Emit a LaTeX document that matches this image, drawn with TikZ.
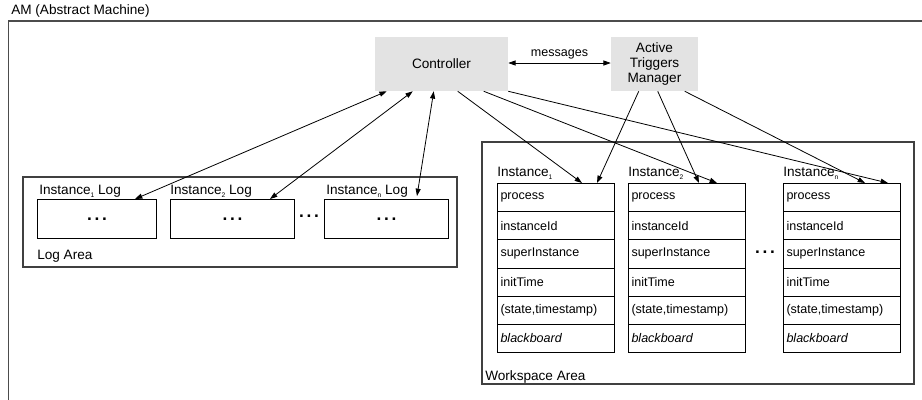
\documentclass[tikz,border=0pt]{standalone}
\usepackage{fontspec}
\setmainfont{Liberation Sans}
\usetikzlibrary{arrows.meta,calc}

% small lowered index for instance names
\newcommand{\idx}[1]{\raisebox{-0.4ex}{\fontsize{5}{5}\selectfont #1}}
% spaced bold ellipsis
\newcommand{\gapdots}{.\hspace{2pt}.\hspace{2pt}.}

\begin{document}
\begin{tikzpicture}[x=0.75pt,y=-0.75pt,
  lbl/.style={font=\fontsize{10.2}{11.3}\selectfont, inner sep=0},
  small/.style={font=\fontsize{9.4}{11}\selectfont, inner sep=0},
  component/.style={fill=black!11, inner sep=0, align=center,
    font=\fontsize{10.2}{11.3}\selectfont},
  area/.style={draw=black!75, line width=0.8pt},
  logbox/.style={draw, line width=0.75pt, anchor=north west, inner sep=0,
    minimum height={39*0.75pt}, font=\bfseries\fontsize{13}{13}\selectfont},
  fieldrow/.style={draw, line width=0.75pt, anchor=north west,
    minimum width={117*0.75pt}, minimum height={28.17*0.75pt},
    text width={111*0.75pt}, align=left, inner xsep={3*0.75pt}, inner ysep=0,
    font=\fontsize{9.4}{11}\selectfont},
  dots/.style={font=\bfseries\fontsize{13}{13}\selectfont, inner sep=0},
  link/.style={line width=0.6pt, -{Triangle[length=5.5pt,width=3.8pt]}},
  biglink/.style={line width=0.6pt, {Triangle[length=5.5pt,width=3.8pt]}-{Triangle[length=5.5pt,width=3.8pt]}}
]
\useasboundingbox (0,0) rectangle (922,400);
\clip (0,0) rectangle (922,400);

% abstract machine frame (continues past the page edges)
\draw[draw=black!70, line width=1.1pt] (8.5,420) |- (940,21);
\node[lbl, anchor=west] (amlabel) at (11,11) {AM (Abstract Machine)};

% controller and triggers manager
\node[component, minimum width={133*0.75pt}, minimum height={54*0.75pt}] (ctrl) at (441.5,64) {Controller};
\node[component, minimum width={87*0.75pt}, minimum height={54*0.75pt}] (atm) at (654.5,64) {Active\\Triggers\\Manager};
\draw[biglink] (ctrl.east |- 0,63) -- (atm.west |- 0,63)
  node[midway, above=2.5pt, small] (msg) {messages};

% log area
\draw[area] (23,177) rectangle (457,267);
\node[lbl, anchor=west] (logarea) at (37,256) {Log Area};
\node[logbox, minimum width={119*0.75pt}] (log1) at (37,199) {\gapdots};
\node[logbox, minimum width={124*0.75pt}] (log2) at (170,199) {\gapdots};
\node[logbox, minimum width={124*0.75pt}] (logn) at (324,199) {\gapdots};
\node[lbl, anchor=west] (log1lbl) at (39,191) {Instance\idx{1} Log};
\node[lbl, anchor=west] (log2lbl) at (170,191) {Instance\idx{2} Log};
\node[lbl, anchor=west] (lognlbl) at (326,191) {Instance\idx{n} Log};
\node[dots] (logdots) at (309,216) {\gapdots};

% workspace area
\draw[area] (482,142) rectangle (914,384);
\node[lbl, anchor=west] (wslabel) at (485,377) {Workspace Area};
\foreach \n/\x in {1/497, 2/628, n/783} {
  \node[lbl, anchor=south west] (inst\n lbl) at (\x,180) {Instance\idx{\n}};
  \foreach \f [count=\k] in {process, instanceId, superInstance, initTime,
      {(state,timestamp)}, {\itshape blackboard}} {
    \node[fieldrow] (inst\n-\k) at (\x,{183+(\k-1)*28.17}) {\f};
  }
}
\node[dots] (wsdots) at (765,252) {\gapdots};

% controller <-> logs
\draw[biglink] ($(ctrl.south west)+(12,0)$) -- ($(log1.north west)+(98,0)$);
\draw[biglink] ($(ctrl.south west)+(38,0)$) -- ($(log2.north west)+(100,0)$);
\draw[biglink] ($(ctrl.south west)+(59,0)$) -- ($(logn.north west)+(93,-3)$);

% controller -> instances
\draw[link] ($(ctrl.south west)+(83,0)$) -- ($(inst1-1.north west)+(85,0)$);
\draw[link] ($(ctrl.south west)+(109,0)$) -- ($(inst2-1.north west)+(89,0)$);
\draw[link] (ctrl.south east) -- ($(instn-1.north west)+(105,0)$);

% triggers manager -> instances
\draw[link] ($(atm.south west)+(28,0)$) -- ($(inst1-1.north west)+(100,0)$);
\draw[link] ($(atm.south west)+(47,0)$) -- ($(inst2-1.north west)+(71,0)$);
\draw[link] ($(atm.south west)+(74,0)$) -- ($(instn-1.north west)+(82,0)$);
\end{tikzpicture}
\end{document}
